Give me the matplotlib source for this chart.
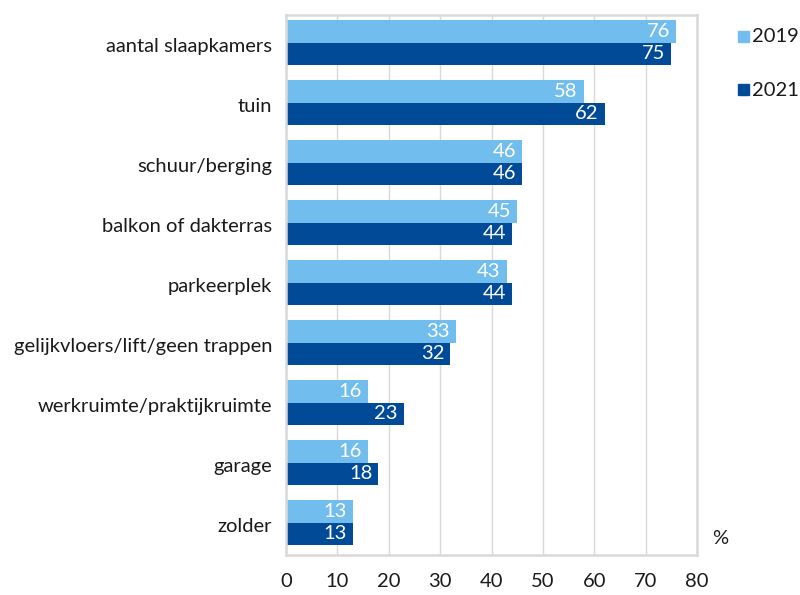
import matplotlib
matplotlib.use("Agg")
import matplotlib.pyplot as plt
import numpy as np
from matplotlib.patches import Rectangle

categories = ["aantal slaapkamers", "tuin", "schuur/berging", "balkon of dakterras",
              "parkeerplek", "gelijkvloers/lift/geen trappen", "werkruimte/praktijkruimte",
              "garage", "zolder"]
v2019 = [76, 58, 46, 45, 43, 33, 16, 16, 13]
v2021 = [75, 62, 46, 44, 44, 32, 23, 18, 13]
xticks = [0, 10, 20, 30, 40, 50, 60, 70, 80]

c19 = "#71BDED"
c21 = "#004A98"
font = "Lato"
plt.rcParams['font.family'] = [font, 'DejaVu Sans']
fs = 14.5

fig = plt.figure(figsize=(8, 5.95), dpi=100)
ax = fig.add_axes([286/800, 1-555/595, (697-286)/800, (555-15)/595])

n = len(categories)
y = np.arange(n)
h = 0.375
b1 = ax.barh(y - h/2 - 0.04, v2019, height=h, color=c19, label="2019")
b2 = ax.barh(y + h/2 - 0.04, v2021, height=h, color=c21, label="2021")
for bars, vals in ((b1, v2019), (b2, v2021)):
    for rect, v in zip(bars, vals):
        ax.text(v - 1.2, rect.get_y() + rect.get_height()/2, str(v), ha="right",
                va="center", color="white", fontsize=fs)

ax.set_ylim(n - 0.5, -0.5)
ax.set_xlim(0, 80)
ax.set_yticks(y)
ax.set_yticklabels(categories, fontsize=fs, color="#1a1a1a")
ax.set_xticks(xticks)
ax.set_xticklabels([str(t) for t in xticks], fontsize=fs, color="#1a1a1a")
ax.tick_params(length=0)
ax.tick_params(axis="y", pad=10)
ax.tick_params(axis="x", pad=13)
ax.xaxis.grid(True, color="#d9d9d9", linewidth=1)
ax.set_axisbelow(True)
for s in ax.spines.values():
    s.set_color("#d9d9d9")
    s.set_linewidth(1.8)

fig.text(712/800, 1-538/595, "%", fontsize=fs, ha="left", va="center", color="#1a1a1a")

for yy, col, lab in ((37, c19, "2019"), (90, c21, "2021")):
    fig.patches.append(Rectangle((738/800, 1-(yy+5)/595), 11/800, 11/595,
                                 transform=fig.transFigure, color=col))
    fig.text(752/800, 1-yy/595, lab, fontsize=fs, ha="left", va="center", color="#1a1a1a")

fig.savefig("out.png", dpi=100)
